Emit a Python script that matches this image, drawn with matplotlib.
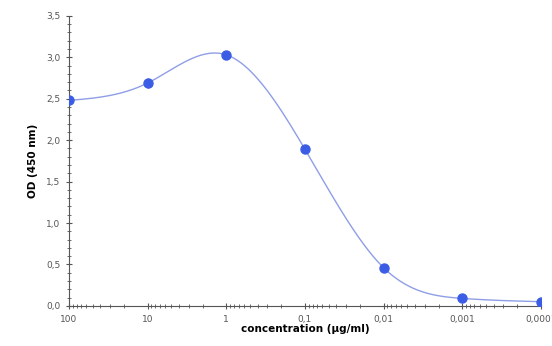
import numpy as np
import matplotlib
matplotlib.use('Agg')
import matplotlib.pyplot as plt
from matplotlib.ticker import FixedLocator, LogLocator, MultipleLocator, FuncFormatter

conc = [100, 10, 1, 0.1, 0.01, 0.001, 0.0001]
od = [2.48, 2.69, 3.03, 1.89, 0.46, 0.09, 0.05]
od_err = [0.05, 0.06, 0.03, 0.03, 0.02, 0.02, 0.02]
xtick_labels = ['100', '10', '1', '0,1', '0,01', '0,001', '0,0001']


def natural_spline(x, y, xs):
    # natural cubic spline, solved by hand (no scipy)
    x = np.asarray(x, float)
    y = np.asarray(y, float)
    n = len(x)
    h = np.diff(x)
    A = np.zeros((n, n))
    b = np.zeros(n)
    A[0, 0] = 1
    A[-1, -1] = 1
    for i in range(1, n - 1):
        A[i, i - 1] = h[i - 1]
        A[i, i] = 2 * (h[i - 1] + h[i])
        A[i, i + 1] = h[i]
        b[i] = 3 * ((y[i + 1] - y[i]) / h[i] - (y[i] - y[i - 1]) / h[i - 1])
    c = np.linalg.solve(A, b)
    out = np.zeros_like(xs)
    for k, xv in enumerate(xs):
        i = min(max(np.searchsorted(x, xv) - 1, 0), n - 2)
        dx = xv - x[i]
        bi = (y[i + 1] - y[i]) / h[i] - h[i] * (2 * c[i] + c[i + 1]) / 3
        di = (c[i + 1] - c[i]) / (3 * h[i])
        out[k] = y[i] + bi * dx + c[i] * dx ** 2 + di * dx ** 3
    return out


lx = np.log10(conc)[::-1]
ly = np.array(od)[::-1]
xs = np.linspace(lx[0], lx[-1], 400)
ys = natural_spline(lx, ly, xs)

fig = plt.figure(figsize=(5.52, 3.46), dpi=100)
ax = fig.add_axes([0.125, 0.116, 0.855, 0.838])

ax.plot(10 ** xs, ys, color='#8f9ee6', linewidth=1.0, zorder=2)
ax.errorbar(conc, od, yerr=od_err, fmt='o', color='#3b5de6', markersize=6.5,
            elinewidth=1, capsize=0, zorder=3)

ax.set_xscale('log')
ax.set_xlim(100, 0.0001)
ax.set_ylim(0, 3.5)

ax.xaxis.set_major_locator(FixedLocator(conc))
ax.xaxis.set_major_formatter(FuncFormatter(lambda v, p: xtick_labels[conc.index(min(conc, key=lambda c: abs(np.log10(c) - np.log10(v))))]))
ax.xaxis.set_minor_locator(LogLocator(base=10, subs=np.arange(2, 10), numticks=20))
ax.yaxis.set_major_locator(MultipleLocator(0.5))
ax.yaxis.set_minor_locator(MultipleLocator(0.1))
ax.yaxis.set_major_formatter(FuncFormatter(lambda v, p: ('%.1f' % v).replace('.', ',')))

for s in ['top', 'right']:
    ax.spines[s].set_visible(False)
for s in ['left', 'bottom']:
    ax.spines[s].set_color('#555555')
    ax.spines[s].set_linewidth(0.8)

ax.tick_params(which='both', direction='inout', colors='#555555', labelsize=6.5, labelcolor='#555555')
ax.tick_params(which='major', length=5)
ax.tick_params(which='minor', length=3)
ax.tick_params(axis='x', pad=4)

ax.set_xlabel('concentration (µg/ml)', fontsize=7.5, fontweight='bold', labelpad=0)
ax.set_ylabel('OD (450 nm)', fontsize=7.5, fontweight='bold', labelpad=6)

fig.savefig('out.png', dpi=100)
